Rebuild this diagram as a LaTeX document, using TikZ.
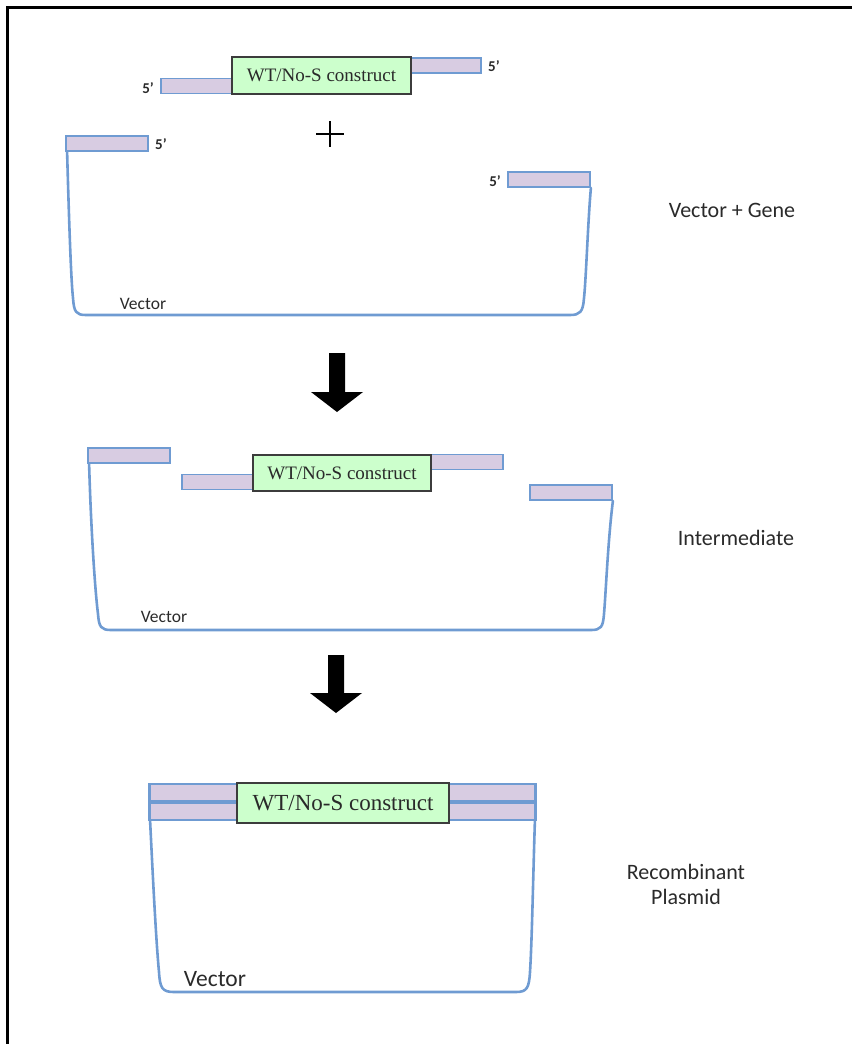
\documentclass[tikz,border=0pt]{standalone}
\usepackage{fontspec}
\setmainfont{Liberation Serif}
\newfontfamily\labfont{Carlito}
\definecolor{vecblue}{HTML}{6F9BD2}
\definecolor{strandfill}{HTML}{D8CCE2}
\definecolor{boxfill}{HTML}{CCFFCC}
\definecolor{boxline}{HTML}{3C3C3C}
\definecolor{txt}{HTML}{2A2A2A}
\tikzset{
  strand/.style={draw=vecblue, fill=strandfill, line width=1.8pt, inner sep=0pt, minimum height=15pt},
  gene/.style={draw=boxline, fill=boxfill, line width=1.8pt, inner sep=0pt, text=txt},
  vecline/.style={draw=vecblue, line width=2.6pt, line join=round, line cap=round},
  endlab/.style={inner sep=0pt, text=txt, font=\labfont\bfseries\fontsize{15}{15}\selectfont},
  steplab/.style={inner sep=0pt, text=txt, align=center, font=\labfont\fontsize{22}{25}\selectfont},
  veclab/.style={inner sep=0pt, text=txt, font=\labfont\fontsize{17.5}{18}\selectfont},
  bigarrow/.style={fill=black, draw=none}
}
\begin{document}
\begin{tikzpicture}[x=1pt,y=-1pt]
\useasboundingbox (0,0) rectangle (852,1044);
% frame (left and top edges visible)
\draw[line width=3pt] (7,1044) -- (7,7) -- (852,7);

% ---------- Stage 1: vector + gene ----------
\node[strand, minimum width=71pt] (g1L) at (196.5,86) {};
\node[strand, minimum width=70pt] (g1R) at (446,65.5) {};
\node[gene, minimum width=179pt, minimum height=37pt, font=\fontsize{19}{19}\selectfont] (g1) at (321.5,75.5) {WT/No-S construct};
\node[endlab, anchor=east] (g1La) at (154,88) {5’};
\node[endlab, anchor=west] (g1Ra) at (488,66) {5’};

\draw[line width=2.2pt] (316,134) -- (344,134) (330,121) -- (330,147);

\node[strand, minimum width=82pt] (v1L) at (107,143.5) {};
\node[strand, minimum width=82pt] (v1R) at (549,179.5) {};
\node[endlab, anchor=west] (v1La) at (155,144) {5’};
\node[endlab, anchor=east] (v1Ra) at (501,181) {5’};
\draw[vecline] (v1L.south west) ++(2,0) .. controls (69,220) and (71,280) .. (73,298) .. controls (74,312) and (76,315) .. (86,315)
  -- (570,315) .. controls (580,315) and (583,312) .. (584,298) .. controls (586,280) and (588,220) .. (v1R.south east);
\node[veclab] (v1lab) at (143,304) {Vector};
\node[steplab] (st1) at (732,210) {Vector + Gene};

% arrow 1
\fill[bigarrow] (329,353) -- (345,353) -- (345,392) -- (363,392) -- (337,412) -- (311,392) -- (329,392) -- cycle;

% ---------- Stage 2: intermediate ----------
\node[strand, minimum width=82pt] (v2L) at (129,455.5) {};
\node[strand, minimum width=71pt] (g2L) at (217.5,482) {};
\node[strand, minimum width=72pt] (g2R) at (467,462) {};
\node[gene, minimum width=178pt, minimum height=36pt, font=\fontsize{19}{19}\selectfont] (g2) at (342,473) {WT/No-S construct};
\node[strand, minimum width=82pt] (v2R) at (571,492.5) {};
\draw[vecline] (v2L.south west) ++(2,0) .. controls (91,530) and (95,590) .. (98,614) .. controls (99,627) and (101,630) .. (111,630)
  -- (591,630) .. controls (601,630) and (603,627) .. (604,614) .. controls (606,590) and (608,540) .. (v2R.south east);
\node[veclab] (v2lab) at (164,617) {Vector};
\node[steplab] (st2) at (736,538) {Intermediate};

% arrow 2
\fill[bigarrow] (328,655) -- (344,655) -- (344,693) -- (362,693) -- (336,713) -- (310,693) -- (328,693) -- cycle;

% ---------- Stage 3: recombinant plasmid ----------
\node[strand, minimum width=385pt, minimum height=17pt] (p3a) at (342.5,792.5) {};
\node[strand, minimum width=385pt, minimum height=17pt] (p3b) at (342.5,811.5) {};
\node[gene, minimum width=212pt, minimum height=40pt, font=\fontsize{23}{23}\selectfont] (g3) at (343,803) {WT/No-S construct};
\draw[vecline] (p3b.south west) ++(1,0) .. controls (153,880) and (156,940) .. (159,972) .. controls (160,988) and (162,992) .. (174,992)
  -- (516,992) .. controls (527,992) and (529,988) .. (530,972) .. controls (532,940) and (533,880) .. ([xshift=-1pt]p3b.south east);
\draw[draw=vecblue, line width=2.6pt] (p3a.north west) -- (p3b.south west) (p3a.north east) -- (p3b.south east);
\node[veclab, font=\labfont\fontsize{23.5}{24}\selectfont] (v3lab) at (215,979) {Vector};
\node[steplab] (st3) at (686,884) {Recombinant\\Plasmid};
\end{tikzpicture}
\end{document}
